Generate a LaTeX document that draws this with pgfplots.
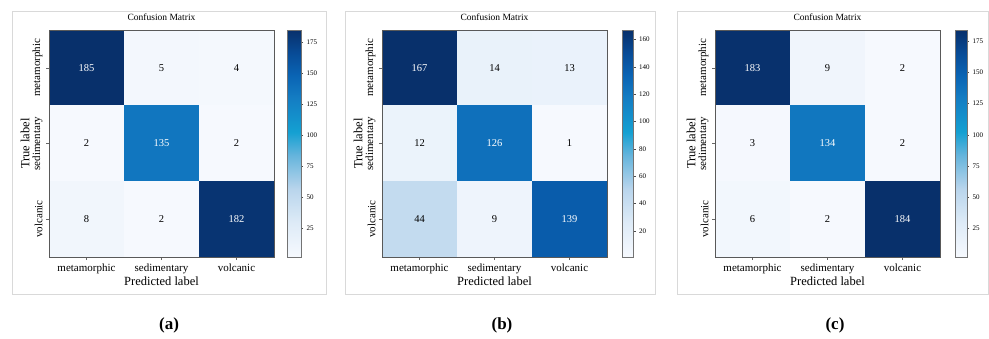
\documentclass[border=0pt]{standalone}
\usepackage{pgfplots}
\pgfplotsset{compat=1.18}
\usepackage{pgfplotstable}
\usepackage{fontspec}
\setmainfont{Liberation Serif}

\pgfplotsset{
  colormap={myblues}{rgb255(0pt)=(246,249,254) rgb255(15pt)=(222,235,247) rgb255(30pt)=(185,213,236) rgb255(45pt)=(100,180,220) rgb255(55pt)=(20,160,210) rgb255(70pt)=(20,125,195) rgb255(80pt)=(10,100,180) rgb255(90pt)=(8,75,150) rgb255(100pt)=(8,48,107)},
  cmstyle/.style={
    scale only axis, width=225pt, height=227pt, anchor=south west,
    axis on top,
    xmin=-0.5, xmax=2.5, ymin=-0.5, ymax=2.5, y dir=reverse,
    enlargelimits=false,
    xtick={0,1,2}, ytick={0,1,2},
    xticklabels={metamorphic,sedimentary,volcanic},
    yticklabels={metamorphic,sedimentary,volcanic},
    xtick pos=bottom, ytick pos=left, tick align=outside, major tick length=3pt,
    tick style={black!60, line width=0.6pt},
    axis line style={black!65, line width=1pt},
    ticklabel style={font=\fontsize{11}{13}\selectfont},
    yticklabel style={rotate=90, anchor=south},
    xlabel={Predicted label}, ylabel={True label},
    label style={font=\fontsize{12.5}{14}\selectfont},
    xlabel style={at={(axis description cs:0.5,-0.1057)}, anchor=center},
    ylabel style={at={(axis description cs:-0.1067,0.5)}, anchor=center},
    title={Confusion Matrix},
    title style={at={(axis description cs:0.5,1.0308)}, anchor=center, font=\fontsize{9.5}{11}\selectfont},
    colormap name=myblues,
    colorbar,
  },
  cbstyle/.style={
    at={(parent axis.north east)}, anchor=north west,
    axis on top,
    axis line style={black!55, line width=0.8pt},
    yticklabel={\pgfmathprintnumber{\tick}},
    yticklabel style={font=\fontsize{7}{8}\selectfont},
    /pgf/number format/assume math mode=true,
    ytick pos=right, tick align=outside, major tick length=2pt,
    tick style={black!70, line width=0.5pt},
  },
  numstyle/.style={draw=none, mark=none, point meta=explicit,
    nodes near coords={\pgfmathprintnumber{\pgfplotspointmeta}},
    /pgf/number format/assume math mode=true,
    every node near coord/.append style={font=\fontsize{10.5}{12}\selectfont, anchor=center, text=#1}},
}

\pgfplotstableread{
x y C
0 0 185
1 0 5
2 0 4
0 1 2
1 1 135
2 1 2
0 2 8
1 2 2
2 2 182
}\cmA
\pgfplotstableread{
x y C
0 0 167
1 0 14
2 0 13
0 1 12
1 1 126
2 1 1
0 2 44
1 2 9
2 2 139
}\cmB
\pgfplotstableread{
x y C
0 0 183
1 0 9
2 0 2
0 1 3
1 1 134
2 1 2
0 2 6
1 2 2
2 2 184
}\cmC

\begin{document}
\begin{tikzpicture}[x=1pt,y=1pt]
\path[use as bounding box] (0,0) rectangle (989,338);
\draw[black!15, line width=1pt] (12,44) rectangle (326,326);
\draw[black!15, line width=1pt] (345,44) rectangle (655,326);
\draw[black!15, line width=1pt] (677,44) rectangle (988.5,326);

% (a)
\begin{axis}[cmstyle, at={(49pt,81pt)}, point meta min=2, point meta max=185,
  colorbar style={cbstyle, xshift=4.5pt, width=14pt, ytick={25,50,...,175}}]
\addplot[matrix plot*, mesh/cols=3, point meta=explicit] table[meta=C]{\cmA};
\addplot[numstyle=white, restrict expr to domain={\thisrow{C}}{92:1000}] table[meta=C]{\cmA};
\addplot[numstyle=black, restrict expr to domain={\thisrow{C}}{0:92}] table[meta=C]{\cmA};
\end{axis}

% (b)
\begin{axis}[cmstyle, at={(382pt,81pt)}, point meta min=1, point meta max=167,
  colorbar style={cbstyle, xshift=6.5pt, width=11.5pt, ytick={20,40,...,160}}]
\addplot[matrix plot*, mesh/cols=3, point meta=explicit] table[meta=C]{\cmB};
\addplot[numstyle=white, restrict expr to domain={\thisrow{C}}{84:1000}] table[meta=C]{\cmB};
\addplot[numstyle=black, restrict expr to domain={\thisrow{C}}{0:83}] table[meta=C]{\cmB};
\end{axis}

% (c)
\begin{axis}[cmstyle, at={(715pt,81pt)}, point meta min=2, point meta max=184,
  colorbar style={cbstyle, xshift=6.5pt, width=12pt, ytick={25,50,...,175}}]
\addplot[matrix plot*, mesh/cols=3, point meta=explicit] table[meta=C]{\cmC};
\addplot[numstyle=white, restrict expr to domain={\thisrow{C}}{92:1000}] table[meta=C]{\cmC};
\addplot[numstyle=black, restrict expr to domain={\thisrow{C}}{0:91}] table[meta=C]{\cmC};
\end{axis}

\node[font=\fontsize{17}{19}\selectfont\bfseries] at (169,13) {(a)};
\node[font=\fontsize{17}{19}\selectfont\bfseries] at (502,13) {(b)};
\node[font=\fontsize{17}{19}\selectfont\bfseries] at (835,13) {(c)};
\end{tikzpicture}
\end{document}
